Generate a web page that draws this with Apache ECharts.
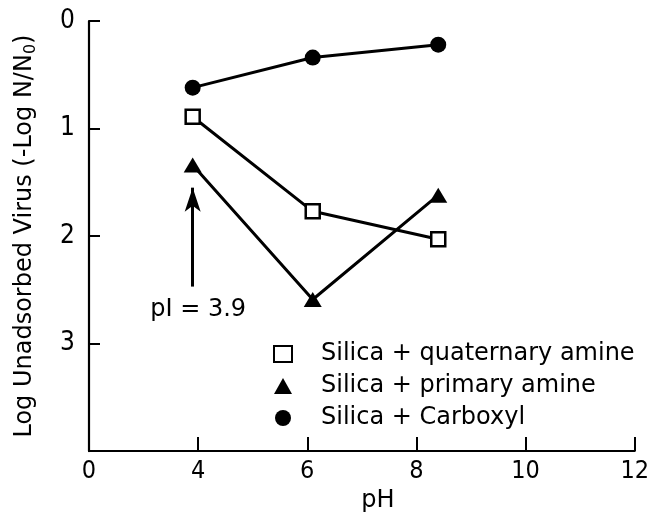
<!DOCTYPE html>
<html>
<head>
<meta charset="utf-8">
<script src="https://cdn.jsdelivr.net/npm/echarts@6/dist/echarts.min.js"></script>
<style>
html,body{margin:0;padding:0;background:#fff;}
#chart{width:652px;height:518px;}
</style>
</head>
<body>
<div id="chart"></div>
<script>
// pH values of measurements
const phValues = [3.9, 6.1, 8.4];
// Log unadsorbed virus (-Log N/N0)
const quaternaryAmine = [0.89, 1.77, 2.03];
const primaryAmine = [1.34, 2.59, 1.62];
const carboxyl = [0.62, 0.34, 0.22];
const seriesNames = ['Silica + quaternary amine', 'Silica + primary amine', 'Silica + Carboxyl'];
const xTickLabels = {2: '0', 4: '4', 6: '6', 8: '8', 10: '10', 12: '12'};
const yTickLabels = {0: '0', 1: '1', 2: '2', 3: '3', 4: ''};
// pI annotation
const pIValue = 3.9;
const arrowFrom = 2.47, arrowTo = 1.55;
const pILabel = 'pI = 3.9';
const pILabelPos = [4.0, 2.69];

const FONT = "'DejaVu Sans', sans-serif";
const FONT_C = "'DejaVu Sans Condensed', 'DejaVu Sans', sans-serif";
const pairs = (ys) => phValues.map((x, i) => [x, ys[i]]);

const chart = echarts.init(document.getElementById('chart'));
chart.setOption({
  animation: false,
  backgroundColor: '#fff',
  textStyle: {fontFamily: FONT, color: '#000'},
  grid: {left: 89, right: 11, top: 21, bottom: 65, containLabel: false},
  xAxis: {
    type: 'value', min: 2, max: 12, interval: 2,
    name: 'pH', nameLocation: 'middle', nameGap: 36,
    nameTextStyle: {fontSize: 24, fontFamily: FONT, color: '#000', padding: [0, 0, 0, 32]},
    axisLine: {show: true, onZero: false, lineStyle: {color: '#000', width: 2.2}},
    axisTick: {show: true, inside: true, length: 14, lineStyle: {color: '#000', width: 2}},
    axisLabel: {fontSize: 25, fontFamily: FONT_C, color: '#000', margin: 8,
      formatter: v => xTickLabels[v] !== undefined ? xTickLabels[v] : ''},
    splitLine: {show: false}
  },
  yAxis: {
    type: 'value', min: 0, max: 4, interval: 1, inverse: true,
    name: '{a|Log Unadsorbed Virus (-Log N/N}{s|0}{a|)}', nameLocation: 'middle', nameGap: 50,
    nameRotate: 90,
    nameTextStyle: {fontFamily: FONT, color: '#000',
      rich: {a: {fontSize: 24, fontFamily: FONT, color: '#000'},
             s: {fontSize: 16, fontFamily: FONT, color: '#000', verticalAlign: 'bottom', padding: [12, 0, 0, 0]}}},
    axisLine: {show: true, onZero: false, lineStyle: {color: '#000', width: 2.2}},
    axisTick: {show: true, inside: true, length: 11, lineStyle: {color: '#000', width: 2}},
    axisLabel: {fontSize: 26, fontFamily: FONT_C, color: '#000', margin: 14,
      formatter: v => yTickLabels[v] !== undefined ? yTickLabels[v] : ''},
    splitLine: {show: false}
  },
  legend: {
    orient: 'vertical', left: 268, top: 337, itemGap: 8, itemWidth: 18, itemHeight: 16,
    textStyle: {fontSize: 24, fontFamily: FONT, color: '#000', padding: [0, 0, 0, 24]},
    data: [
      {name: seriesNames[0], icon: 'rect', itemStyle: {color: '#fff', borderColor: '#000', borderWidth: 2}},
      {name: seriesNames[1], icon: 'triangle'},
      {name: seriesNames[2], icon: 'circle'}
    ]
  },
  series: [
    {
      name: seriesNames[0], type: 'line', data: pairs(quaternaryAmine),
      symbol: 'rect', symbolSize: 14,
      itemStyle: {color: '#fff', borderColor: '#000', borderWidth: 2.5},
      lineStyle: {color: '#000', width: 3}
    },
    {
      name: seriesNames[1], type: 'line', data: pairs(primaryAmine),
      symbol: 'triangle', symbolSize: [18, 15],
      itemStyle: {color: '#000'},
      lineStyle: {color: '#000', width: 3},
      markLine: {
        silent: true, symbol: ['none', 'arrow'], symbolSize: [12, 24],
        label: {show: false},
        lineStyle: {color: '#000', width: 3, type: 'solid'},
        data: [[{coord: [pIValue, arrowFrom]}, {coord: [pIValue, arrowTo]}]]
      },
      markPoint: {
        silent: true, symbol: 'circle', symbolSize: 1,
        itemStyle: {color: 'rgba(0,0,0,0)'},
        label: {show: true, position: 'inside', formatter: pILabel, fontSize: 24, fontFamily: FONT, color: '#000'},
        data: [{coord: pILabelPos}]
      }
    },
    {
      name: seriesNames[2], type: 'line', data: pairs(carboxyl),
      symbol: 'circle', symbolSize: 16,
      itemStyle: {color: '#000'},
      lineStyle: {color: '#000', width: 3}
    }
  ]
});
</script>
</body>
</html>
